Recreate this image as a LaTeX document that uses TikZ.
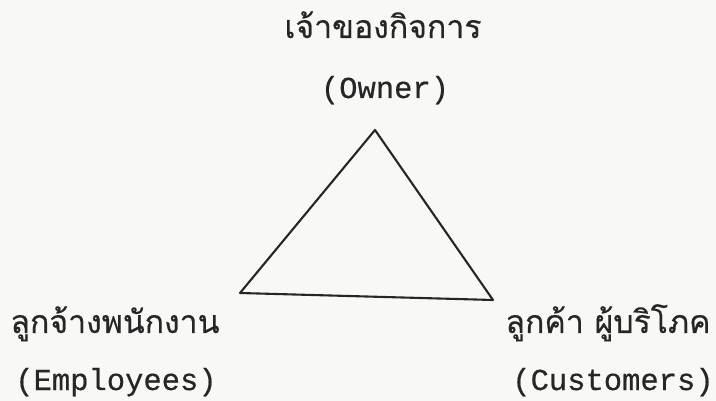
\documentclass[tikz,border=0pt]{standalone}
\usepackage{fontspec}
\newfontfamily\typewriter[FakeBold=0.5]{Liberation Mono}
\newfontfamily\thaifont[Script=Thai,FakeBold=0.4]{Loma}
\definecolor{ink}{HTML}{262626}
\definecolor{paper}{HTML}{F8F8F6}
\begin{document}
\begin{tikzpicture}[x=1pt,y=-1pt,
  thai/.style={font=\thaifont\fontsize{32}{36}\selectfont, anchor=base, inner sep=0pt, text=ink},
  latin/.style={font=\typewriter\fontsize{30.5}{34}\selectfont, anchor=base, inner sep=0pt, text=ink},
  edge/.style={draw=ink, line width=2.1pt, line join=round, line cap=round}]
\fill[paper] (0,0) rectangle (716,401);
\useasboundingbox (0,0) rectangle (716,401);
% labels
\node[thai]  (ownerth) at (383,38)  {เจ้าของกิจการ};
\node[latin] (owneren) at (385,98)  {(Owner)};
\node[thai]  (empth)   at (115,333) {ลูกจ้างพนักงาน};
\node[latin] (empen)   at (116,390) {(Employees)};
\node[thai]  (custth)  at (608,333) {ลูกค้า ผู้บริโภค};
\node[latin] (custen)  at (613,390) {(Customers)};
% triangle
\coordinate (top) at (375,130);
\coordinate (left) at (240,293);
\coordinate (right) at (493,300);
\draw[edge] (top) -- (left) -- (right) -- cycle;
\end{tikzpicture}
\end{document}
